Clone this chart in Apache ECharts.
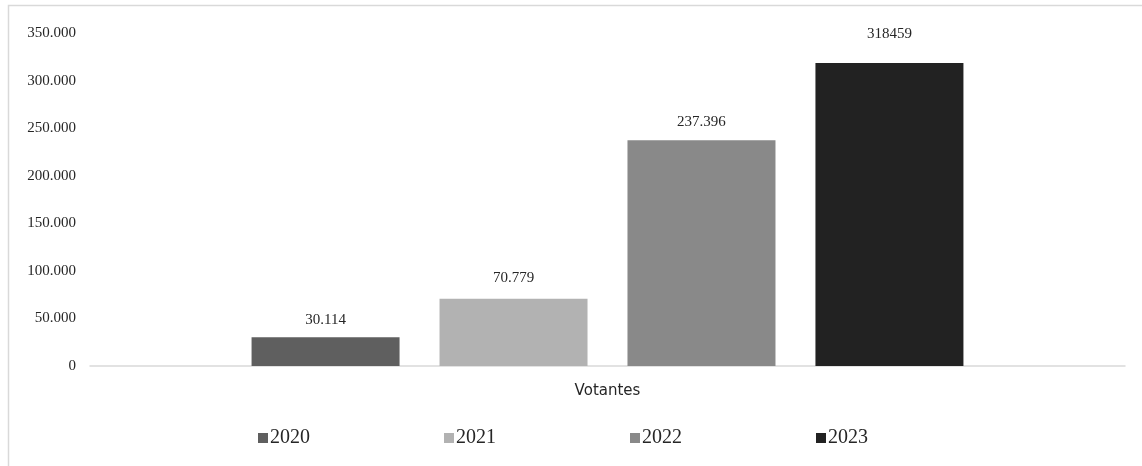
<!DOCTYPE html>
<html>
<head>
<meta charset="utf-8">
<style>
  html, body { margin: 0; padding: 0; background: #ffffff; }
  #chart { width: 1142px; height: 466px; }
</style>
<script src="https://cdn.jsdelivr.net/npm/echarts@6/dist/echarts.min.js"></script>
</head>
<body>
<div id="chart"></div>
<script>
// Voters per year (single category)
var categories = ['Votantes'];
var years = ['2020', '2021', '2022', '2023'];
var votes = [30114, 70779, 237396, 318459];
// whether the value label uses a thousands separator
var groupedLabel = [true, true, true, false];
var colors = ['#5f5f5f', '#b2b2b2', '#898989', '#222222'];
var yTicks = { min: 0, max: 350000, interval: 50000 };

// gap between each bar top and its value label
var labelDistance = [10, 13, 11, 21];

function withDots(v) {
  return String(v).replace(/\B(?=(\d{3})+(?!\d))/g, '.');
}

var serif = '"Liberation Serif", "Times New Roman", serif';

var series = years.map(function (y, i) {
  return {
    name: y,
    type: 'bar',
    data: [votes[i]],
    barWidth: 148,
    barGap: '27%',
    itemStyle: { color: colors[i] },
    label: {
      show: true,
      position: 'top',
      distance: labelDistance[i],
      fontFamily: serif,
      fontSize: 15,
      color: '#262626',
      formatter: function (p) {
        return groupedLabel[i] ? withDots(p.value) : String(p.value);
      }
    }
  };
});

var chart = echarts.init(document.getElementById('chart'), null, { renderer: 'canvas' });
chart.setOption({
  backgroundColor: '#ffffff',
  animation: false,
  graphic: [{
    type: 'rect',
    shape: { x: 8.5, y: 5.5, width: 1300, height: 600 },
    style: { fill: 'none', stroke: '#d9d9d9', lineWidth: 1.5 },
    silent: true,
    z: -1
  }],
  grid: { left: 90, right: 17, top: 33, bottom: 100 },
  legend: {
    data: years,
    bottom: 13,
    left: 253,
    itemWidth: 10,
    itemHeight: 10,
    itemGap: 134,
    icon: 'rect',
    textStyle: { fontFamily: serif, fontSize: 20, color: '#262626', padding: [0, 0, 0, -3] }
  },
  xAxis: {
    type: 'category',
    data: categories,
    axisLine: { lineStyle: { color: '#d9d9d9', width: 1.5 } },
    axisTick: { show: false },
    axisLabel: {
      margin: 18,
      fontFamily: '"DejaVu Sans", sans-serif',
      fontSize: 15,
      color: '#262626'
    }
  },
  yAxis: {
    type: 'value',
    min: yTicks.min,
    max: yTicks.max,
    interval: yTicks.interval,
    splitLine: { show: false },
    axisLine: { show: false },
    axisTick: { show: false },
    axisLabel: {
      margin: 14,
      fontFamily: serif,
      fontSize: 15,
      color: '#262626',
      formatter: function (v) { return withDots(v); }
    }
  },
  series: series
});
</script>
</body>
</html>
